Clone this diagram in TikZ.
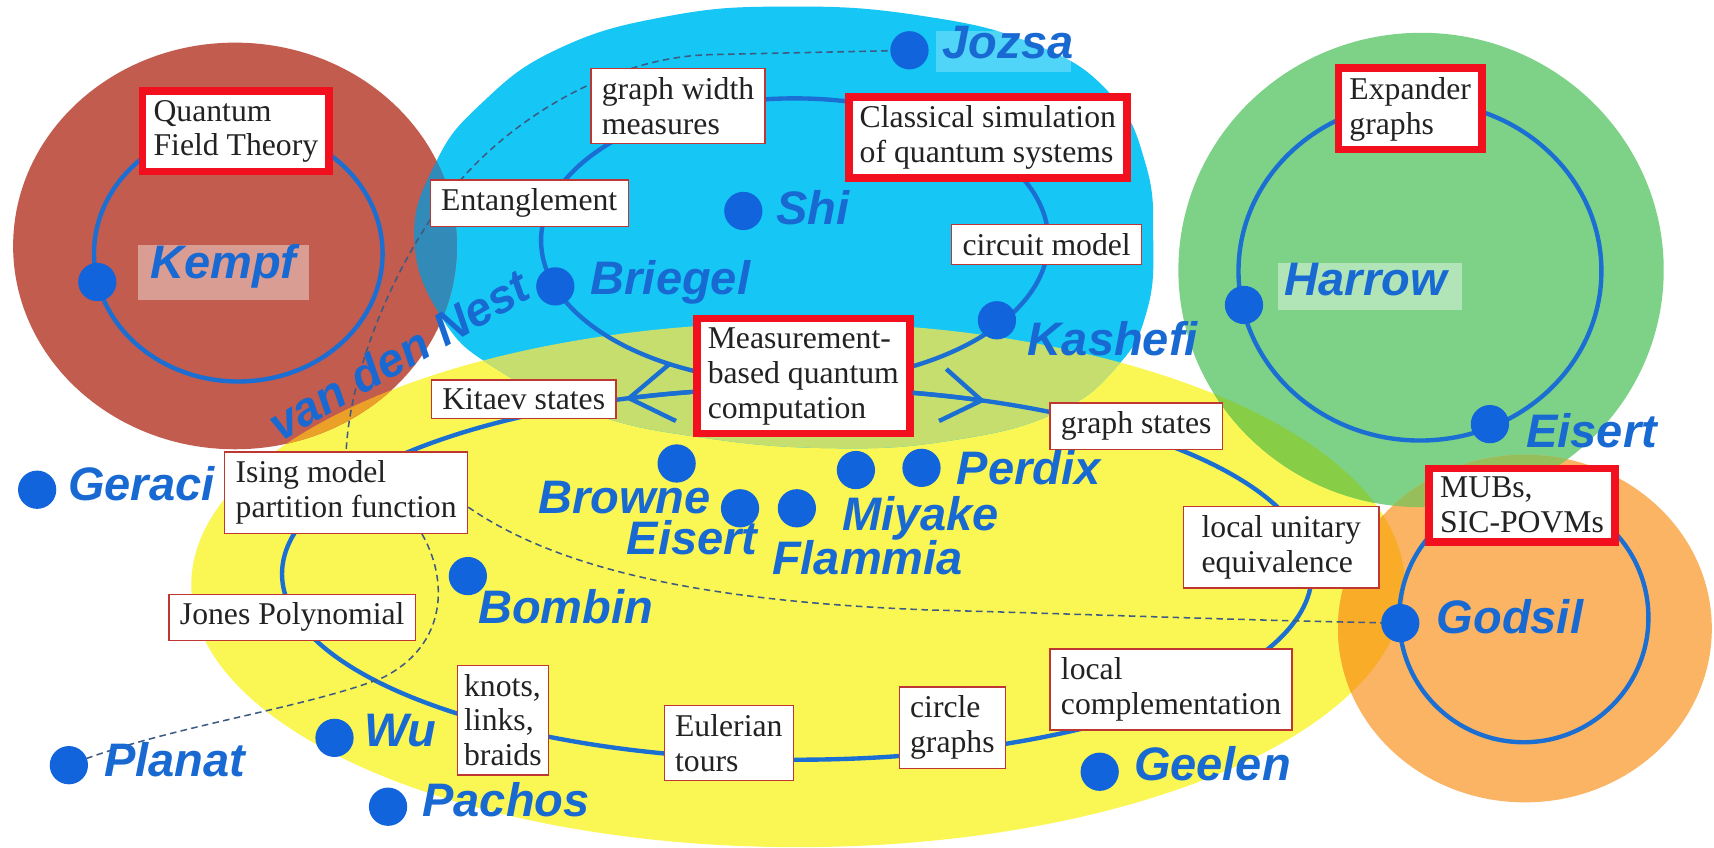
\documentclass[tikz,border=0pt]{standalone}
\usepackage{fontspec}
\setmainfont{Liberation Serif}
\setsansfont{Liberation Sans}
\usetikzlibrary{arrows.meta}
\definecolor{cbrown}{RGB}{194,92,78}
\definecolor{cblue}{RGB}{22,198,245}
\definecolor{cyellow}{RGB}{250,247,85}
\definecolor{cgreen}{RGB}{125,210,135}
\definecolor{corange}{RGB}{250,180,100}
\definecolor{cby}{RGB}{198,222,110}
\definecolor{cbb}{RGB}{50,138,185}
\definecolor{cbry}{RGB}{235,160,40}
\definecolor{cgy}{RGB}{135,205,70}
\definecolor{coy}{RGB}{248,172,40}
\definecolor{cog}{RGB}{150,190,90}
\definecolor{loopblue}{RGB}{27,110,210}
\definecolor{dotblue}{RGB}{18,100,220}
\definecolor{namecol}{RGB}{25,105,210}
\definecolor{thinred}{RGB}{190,55,50}
\definecolor{thickred}{RGB}{242,16,30}
\definecolor{dashcol}{RGB}{60,90,130}
\definecolor{boxtext}{RGB}{34,34,34}
\pgfdeclarelayer{back}
\pgfdeclarelayer{mid}
\pgfsetlayers{back,mid,main}
\def\pBrown{(215,225) ellipse [x radius=203, y radius=186]}
\def\pYellow{(730,535) ellipse [x radius=555, y radius=240]}
\def\pGreen{(1300,247) ellipse [x radius=222, y radius=217]}
\def\pOrange{(1395,575) ellipse [x radius=171, y radius=159]}
\def\pBlue{plot[smooth cycle, tension=0.75] coordinates {(379,220) (398,150) (440,95) (510,45) (610,15) (720,6) (840,14) (945,40) (1015,85) (1048,150) (1055,220) (1049,285) (1022,335) (965,378) (870,403) (760,410) (640,400) (540,378) (455,338) (405,292)}}
\begin{document}
\begin{tikzpicture}[x=0.5pt,y=-0.5pt,
  topic/.style={draw=thinred, line width=0.6pt, fill=white, text=boxtext, align=left, anchor=north west, inner xsep=5pt, inner ysep=4pt, font=\fontsize{14.5}{16}\selectfont},
  keytopic/.style={topic, draw=thickred, line width=3.5pt},
  person/.style={circle, fill=dotblue, inner sep=0pt, minimum size=17.5pt},
  authorname/.style={text=namecol, font=\sffamily\bfseries\itshape\fontsize{21.5}{24}\selectfont, anchor=west, inner sep=0pt, text height=0.72em, text depth=0pt},
  loopline/.style={draw=loopblue, line width=2pt},
  arrowline/.style={draw=loopblue, line width=2pt},
  dashline/.style={draw=dashcol, line width=0.7pt, dash pattern=on 3pt off 2pt},
  namebg/.style={fill=white, opacity=0.4},
]
\useasboundingbox (0,0) rectangle (1568,775);
\clip (0,0) rectangle (1568,775);

% ---------- coloured regions ----------
\begin{pgfonlayer}{back}
\fill[white] (0,0) rectangle (1568,775);
\fill[cyellow] \pYellow;
\fill[cblue] \pBlue;
\begin{scope}\clip \pBlue; \fill[cby] \pYellow; \end{scope}
\fill[cgreen] \pGreen;
\begin{scope}\clip \pGreen; \fill[cgy] \pYellow; \end{scope}
\fill[cbrown] \pBrown;
\begin{scope}\clip \pBrown; \fill[cbb] \pBlue; \fill[cbry] \pYellow; \end{scope}
\fill[corange] \pOrange;
\begin{scope}\clip \pOrange; \fill[coy] \pYellow; \fill[cog] \pGreen; \end{scope}
\fill[namebg] (126,224) rectangle (283,274);
\fill[namebg] (1169,241) rectangle (1337,284);
\fill[namebg, opacity=0.25] (856,28) rectangle (980,66);
\end{pgfonlayer}

% ---------- people positions ----------
\coordinate (pKempf) at (89,258);
\coordinate (pJozsa) at (832,46);
\coordinate (pShi) at (680,193);
\coordinate (pBriegel) at (508,262);
\coordinate (pKashefi) at (912,293);
\coordinate (pHarrow) at (1138,279);
\coordinate (pEisertA) at (1363,388);
\coordinate (pGeraci) at (34,448);
\coordinate (pBrowne) at (619,424);
\coordinate (pEisertB) at (677,465);
\coordinate (pMiyake) at (729,465);
\coordinate (pFlammia) at (783,430);
\coordinate (pPerdix) at (843,428);
\coordinate (pBombin) at (428,527);
\coordinate (pGodsil) at (1281,570);
\coordinate (pWu) at (306,675);
\coordinate (pPlanat) at (63,700);
\coordinate (pPachos) at (355,738);
\coordinate (pGeelen) at (1006,706);
\coordinate (h464) at (0,464);
\coordinate (v386) at (386,0);
\coordinate (jbend) at (650,50);

% ---------- topic boxes ----------
\node[keytopic] (qft) at (127,80) {Quantum\\Field Theory};
\node[topic] (gwm) at (540,62) {graph width\\measures};
\node[keytopic] (csim) at (773,85) {Classical simulation\\of quantum systems};
\node[topic] (ent) at (393,164) {Entanglement};
\node[topic] (circ) at (870,205) {circuit model};
\node[keytopic] (expg) at (1221,59) {Expander\\graphs};
\node[keytopic] (mbqc) at (634,288) {Measurement-\\based quantum\\computation};
\node[topic] (kit) at (394,347) {Kitaev states};
\node[topic] (gst) at (960,368) {graph states};
\node[topic] (ising) at (205,413) {Ising model\\partition function};
\node[keytopic] (mubs) at (1304,425) {MUBs,\\SIC-POVMs};
\node[topic, minimum width=89.5pt] (lue) at (1082,463) {local unitary\\equivalence};
\node[topic] (jones) at (154,543) {Jones Polynomial};
\node[topic] (lcomp) at (960,593) {local\\complementation};
\node[topic, inner xsep=3pt] (knots) at (418,608) {knots,\\links,\\braids};
\node[topic] (euler) at (607,645) {Eulerian\\tours};
\node[topic] (cgr) at (822,628) {circle\\graphs};

% ---------- loops and dashed links ----------
\begin{pgfonlayer}{mid}
\draw[loopline] (218,232) ellipse [x radius=132, y radius=117];
\draw[loopline] (727,220) ellipse [x radius=232, y radius=130];
\draw[loopline] (1299,248) ellipse [x radius=166, y radius=155];
\draw[loopline] (1394,565) ellipse [x radius=114, y radius=114];
\draw[loopline] (729,525) ellipse [x radius=471, y radius=170];
\draw[dashline] (pJozsa) -- (jbend) .. controls (560,52) and (460,110) .. (405,185) .. controls (360,245) and (320,340) .. (ising.north);
\draw[dashline] (ising.east |- h464) .. controls (510,520) and (640,550) .. (850,558) .. controls (1000,562) and (1150,568) .. (pGodsil);
\draw[dashline] (ising.south -| v386) .. controls (410,530) and (410,590) .. (350,620) .. controls (280,648) and (150,665) .. (pPlanat);
\end{pgfonlayer}

% ---------- arrows on the main loop ----------
\draw[arrowline, {Straight Barb[length=20pt,width=26pt]}-] plot[domain=250.5:258, samples=8, smooth] ({729+471*cos(\x)}, {525+170*sin(\x)});
\draw[arrowline, -{Straight Barb[length=18pt,width=24pt]}] plot[domain=283:291.5, samples=8, smooth] ({729+471*cos(\x)}, {525+170*sin(\x)});

% ---------- people ----------
\foreach \p in {Kempf,Jozsa,Shi,Briegel,Kashefi,Harrow,EisertA,Geraci,Browne,EisertB,Miyake,Flammia,Perdix,Bombin,Godsil,Wu,Planat,Pachos,Geelen}
  \node[person] (d\p) at (p\p) {};

\node[authorname] (lJozsa) at (862,46) {Jozsa};
\node[authorname] (lKempf) at (137,248) {Kempf};
\node[authorname] (lShi) at (710,198) {Shi};
\node[authorname] (lBriegel) at (540,262) {Briegel};
\node[authorname] (lKashefi) at (940,318) {Kashefi};
\node[authorname] (lHarrow) at (1175,263) {Harrow};
\node[authorname] (lEisertA) at (1396,402) {Eisert};
\node[authorname, anchor=base west, rotate=30] (lvdn) at (256,405) {van den Nest};
\node[authorname] (lGeraci) at (62,451) {Geraci};
\node[authorname] (lBrowne) at (492,463) {Browne};
\node[authorname] (lEisertB) at (573,500) {Eisert};
\node[authorname] (lMiyake) at (770,478) {Miyake};
\node[authorname] (lPerdix) at (875,436) {Perdix};
\node[authorname] (lFlammia) at (706,518) {Flammia};
\node[authorname] (lBombin) at (437,563) {Bombin};
\node[authorname] (lGodsil) at (1314,572) {Godsil};
\node[authorname] (lWu) at (333,676) {Wu};
\node[authorname] (lPlanat) at (95,703) {Planat};
\node[authorname] (lPachos) at (386,740) {Pachos};
\node[authorname] (lGeelen) at (1037,707) {Geelen};
\end{tikzpicture}
\end{document}
